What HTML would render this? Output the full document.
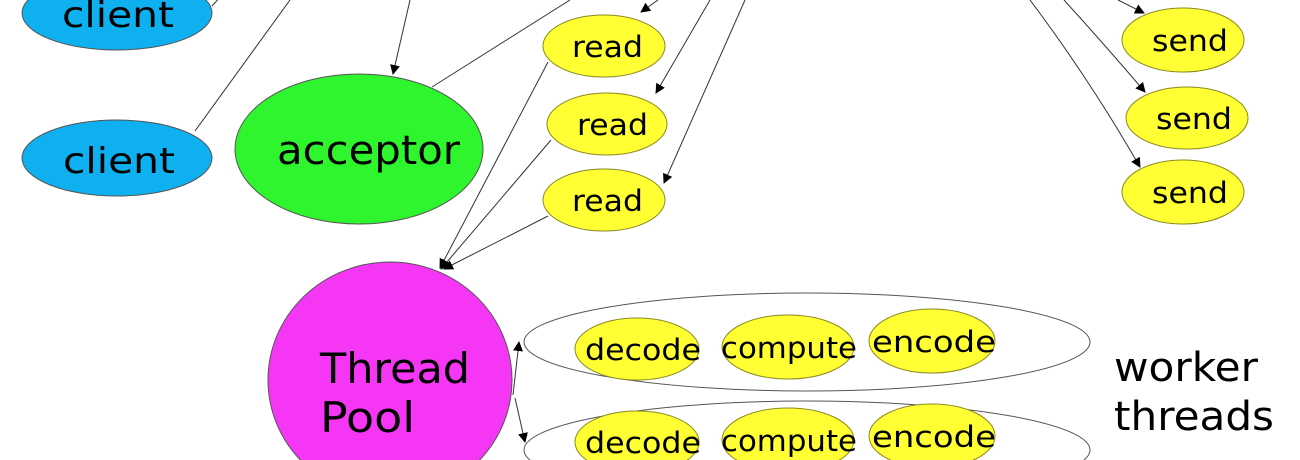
<!DOCTYPE html>
<html><head><meta charset="utf-8"><style>html,body{margin:0;padding:0;background:#fff;width:1300px;height:460px;overflow:hidden;}svg{display:block}</style></head>
<body>
<svg width="1300" height="460" viewBox="0 0 1300 460" xmlns="http://www.w3.org/2000/svg" font-family="DejaVu Sans, Liberation Sans, sans-serif" style="overflow:hidden">
<defs><marker id="a" markerWidth="10" markerHeight="10" refX="9" refY="5" orient="auto" markerUnits="userSpaceOnUse"><path d="M0,0 L10,5 L0,10 z" fill="#000"/></marker></defs>
<g stroke="#333" stroke-width="1" fill="none">
<line x1="212" y1="6" x2="222" y2="-5"/>
<line x1="195" y1="131" x2="290" y2="0"/>
<line x1="410" y1="0" x2="393" y2="74" marker-end="url(#a)"/>
<line x1="432" y1="87" x2="570" y2="0"/>
<line x1="548" y1="62" x2="440" y2="268" marker-end="url(#a)"/>
<line x1="551" y1="140" x2="441" y2="269" marker-end="url(#a)"/>
<line x1="548" y1="216" x2="444" y2="269" marker-end="url(#a)"/>
<line x1="658" y1="0" x2="641" y2="12" marker-end="url(#a)"/>
<line x1="710" y1="0" x2="656" y2="93" marker-end="url(#a)"/>
<line x1="745" y1="0" x2="664" y2="183" marker-end="url(#a)"/>
<line x1="1118" y1="0" x2="1144" y2="13" marker-end="url(#a)"/>
<path d="M1064,0 Q1105,45 1145,92" marker-end="url(#a)"/>
<path d="M1030,0 Q1090,80 1140,167" marker-end="url(#a)"/>
<line x1="513" y1="395" x2="519" y2="342" marker-end="url(#a)"/>
<line x1="515" y1="398" x2="525" y2="442" marker-end="url(#a)"/>
</g>
<g stroke="#555" stroke-width="1">
<ellipse cx="117" cy="13" rx="95" ry="37" fill="#0fb0f0"/>
<ellipse cx="117" cy="158" rx="95" ry="38" fill="#0fb0f0"/>
<ellipse cx="359" cy="149" rx="124" ry="75" fill="#2ef52e"/>
<ellipse cx="390" cy="380" rx="122" ry="118" fill="#f537f5"/>
<ellipse cx="807" cy="342" rx="283" ry="49" fill="none"/>
<ellipse cx="807" cy="450" rx="283" ry="49" fill="none"/>
</g>
<g stroke="#8a8a20" stroke-width="1" fill="#ffff33">
<ellipse cx="604" cy="46" rx="61" ry="31"/>
<ellipse cx="607" cy="124" rx="60" ry="31"/>
<ellipse cx="604" cy="200" rx="61" ry="31"/>
<ellipse cx="1183" cy="40" rx="61" ry="32"/>
<ellipse cx="1187" cy="118" rx="61" ry="31"/>
<ellipse cx="1183" cy="192" rx="61" ry="32"/>
<ellipse cx="637" cy="349" rx="62" ry="31"/>
<ellipse cx="788" cy="347" rx="66" ry="32"/>
<ellipse cx="932" cy="341" rx="63" ry="32"/>
<ellipse cx="637" cy="442" rx="62" ry="31"/>
<ellipse cx="788" cy="440" rx="66" ry="32"/>
<ellipse cx="932" cy="436" rx="63" ry="32"/>
</g>
<g fill="#000">
<text x="62" y="27" font-size="36" textLength="112" lengthAdjust="spacingAndGlyphs">client</text>
<text x="63" y="173" font-size="36" textLength="112" lengthAdjust="spacingAndGlyphs">client</text>
<text x="277" y="164" font-size="40" textLength="183" lengthAdjust="spacingAndGlyphs">acceptor</text>
<text x="572" y="57" font-size="29" textLength="71" lengthAdjust="spacingAndGlyphs">read</text>
<text x="577" y="135" font-size="29" textLength="71" lengthAdjust="spacingAndGlyphs">read</text>
<text x="572" y="211" font-size="29" textLength="71" lengthAdjust="spacingAndGlyphs">read</text>
<text x="1152" y="51" font-size="29" textLength="76" lengthAdjust="spacingAndGlyphs">send</text>
<text x="1156" y="129" font-size="29" textLength="76" lengthAdjust="spacingAndGlyphs">send</text>
<text x="1152" y="203" font-size="29" textLength="76" lengthAdjust="spacingAndGlyphs">send</text>
<text x="320" y="383" font-size="42" textLength="150" lengthAdjust="spacingAndGlyphs">Thread</text>
<text x="320" y="432" font-size="42" textLength="95" lengthAdjust="spacingAndGlyphs">Pool</text>
<text x="585" y="360" font-size="29" textLength="116" lengthAdjust="spacingAndGlyphs">decode</text>
<text x="721" y="358" font-size="29" textLength="136" lengthAdjust="spacingAndGlyphs">compute</text>
<text x="872" y="352" font-size="29" textLength="124" lengthAdjust="spacingAndGlyphs">encode</text>
<text x="585" y="453" font-size="29" textLength="116" lengthAdjust="spacingAndGlyphs">decode</text>
<text x="721" y="451" font-size="29" textLength="136" lengthAdjust="spacingAndGlyphs">compute</text>
<text x="872" y="447" font-size="29" textLength="124" lengthAdjust="spacingAndGlyphs">encode</text>
<text x="1114" y="381" font-size="40" textLength="144" lengthAdjust="spacingAndGlyphs">worker</text>
<text x="1114" y="430" font-size="40" textLength="160" lengthAdjust="spacingAndGlyphs">threads</text>
</g>
</svg>
</body></html>
